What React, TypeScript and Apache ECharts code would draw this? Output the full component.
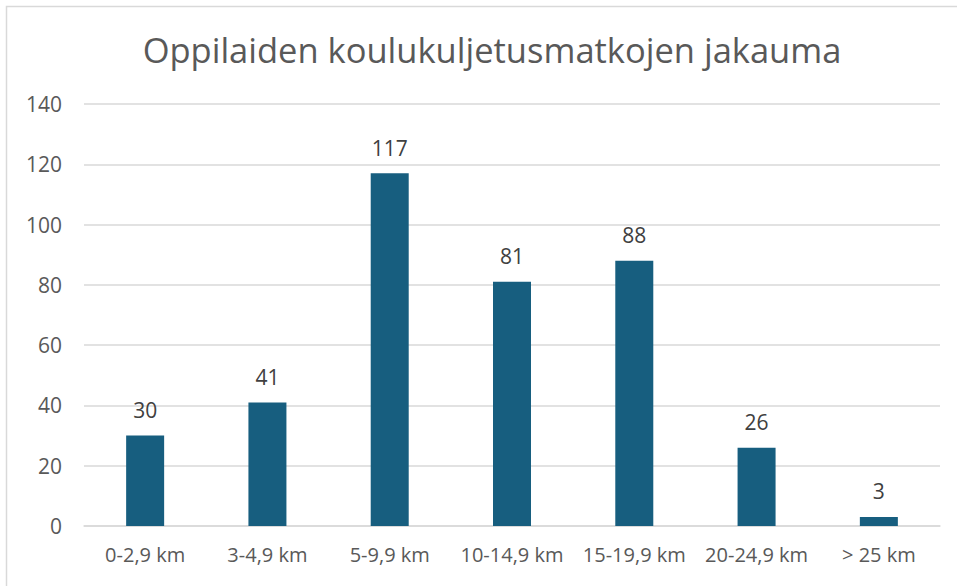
import React, { useEffect, useRef } from "react";
import * as echarts from "echarts";

const categories = ["0-2,9 km", "3-4,9 km", "5-9,9 km", "10-14,9 km", "15-19,9 km", "20-24,9 km", "> 25 km"];
const values = [30, 41, 117, 81, 88, 26, 3];
const titleText = "Oppilaiden koulukuljetusmatkojen jakauma";

export default function App() {
  const ref = useRef<HTMLDivElement>(null);
  useEffect(() => {
    const chart = echarts.init(ref.current!, null, { renderer: "svg" });
    const font = "'Open Sans', sans-serif";
    chart.setOption({
      animation: false,
      backgroundColor: "#ffffff",
      title: {
        text: titleText,
        left: 487,
        textAlign: "center",
        top: 27,
        textStyle: { fontFamily: font, fontSize: 34.5, fontWeight: "normal", color: "#595959" },
      },
      graphic: [
        {
          type: "rect",
          shape: { x: 6.5, y: 6.5, width: 970, height: 600 },
          style: { fill: "none", stroke: "#d9d9d9", lineWidth: 1.5 },
          z: 100,
        },
      ],
      grid: { left: 84, right: 17, top: 104, bottom: 60 },
      xAxis: {
        type: "category",
        data: categories,
        axisLine: { show: true, lineStyle: { color: "#d9d9d9", width: 1.5 } },
        axisTick: { show: false },
        axisLabel: { interval: 0, hideOverlap: false, fontFamily: font, fontSize: 20, color: "#595959", margin: 18 },
      },
      yAxis: {
        type: "value",
        min: 0,
        max: 140,
        interval: 20,
        axisLine: { show: false },
        axisTick: { show: false },
        splitLine: { lineStyle: { color: "#d9d9d9", width: 1.5 } },
        axisLabel: { fontFamily: font, fontSize: 21, color: "#595959", margin: 22 },
      },
      series: [
        {
          type: "bar",
          data: values,
          barWidth: 38,
          itemStyle: { color: "#175E7F" },
          label: {
            show: true,
            position: "top",
            distance: 15,
            fontFamily: font,
            fontSize: 21,
            color: "#404040",
          },
        },
      ],
    });
    return () => chart.dispose();
  }, []);
  return <div ref={ref} style={{ position: "fixed", left: 0, top: 0, width: 957, height: 586 }} />;
}
